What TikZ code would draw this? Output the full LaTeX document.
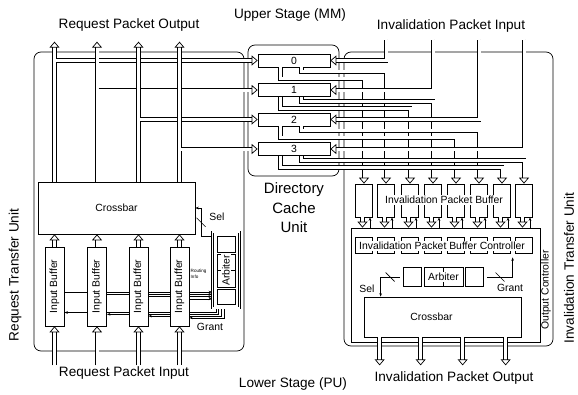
\documentclass[tikz,border=0pt]{standalone}
\usepackage{fontspec}
\setmainfont{Liberation Sans}
\usepackage{graphicx}
\usetikzlibrary{arrows.meta,positioning,backgrounds,calc}
\newcommand\bigfont{\fontsize{13.6}{16}\selectfont}
\newcommand\smlfont{\fontsize{10.4}{12}\selectfont}
\newcommand\dcufont{\fontsize{15}{19.5}\selectfont}
\newcommand\tnyfont{\fontsize{4.6}{5.4}\selectfont}
\tikzset{
  % rounded unit frame
  unitbox/.style={draw,rounded corners=7pt,line width=0.7pt,inner sep=0pt},
  % plain block
  blk/.style={draw,fill=white,line width=0.7pt,inner sep=0pt,font=\smlfont},
  % double bordered block
  dblk/.style={blk,double,double distance=1.4pt},
  % directory entry
  entry/.style={blk,minimum width=72pt,minimum height=13pt},
  % text laid over boxes
  cover/.style={fill=white,inner sep=1pt,font=\smlfont},
  % Arrows
  pipe/.style={draw,line width=0.7pt,double=white,double distance=3pt},
  parr/.style={pipe,-{Triangle[open,width=10pt,length=6pt]}},
  sarr/.style={-{Stealth[length=3.5pt,width=2.6pt]},line width=0.6pt},
  lbl/.style={font=\smlfont,inner sep=0pt},
  biglbl/.style={font=\bigfont,inner sep=0pt},
}
\begin{document}
\begin{tikzpicture}[x=1pt,y=-1pt]
  \useasboundingbox (0,0) rectangle (578,394);
  % frames
  \node[unitbox,minimum width=210pt,minimum height=299pt] (rtu) at (139,201.5) {};
  \node[unitbox,minimum width=91pt,minimum height=131pt] (dcu) at (293.5,110.5) {};
  \node[unitbox,minimum width=209pt,minimum height=294pt] (itu) at (448.5,199) {};
  \node[draw,line width=0.7pt,minimum width=189pt,minimum height=114pt] (oc) at (445.5,285) {};

  % directory entries
  \foreach \k in {0,...,3}
    \node[entry] (e\k) at (294,{60.5+29.5*\k}) {\k};

  % request side
  \node[blk,minimum width=157pt,minimum height=52pt] (xbL) at (116.5,208) {Crossbar};
  \foreach \i/\x in {1/54.5,2/97,3/138.5,4/179.5}
    \node[blk,minimum width=19pt,minimum height=79pt] (ib\i) at (\x,286.5)
      {\rotatebox{90}{Input Buffer}};
  \node[dblk,minimum width=27pt,minimum height=76pt] (arbL) at (226,270) {};
  \foreach \i/\y/\h in {1/244/16pt,2/262.25/16.5pt,3/278.75/16.5pt,4/297/15pt}
    \node[blk,minimum width=18pt,minimum height=\h] (aL\i) at (226,\y) {};
  \node[cover,rotate=90] (arbLt) at (226,270.5) {Arbiter};

  \begin{scope}[on background layer]
    \foreach \i in {1,...,4}{
      \path ($(ib\i.east)+(0,{5.5+2.3*(\i-1)})$) coordinate (r\i);
      \draw[sarr] (r\i) -- (r\i -| arbL.west);
      \path ($(ib\i.east)+(0,{26+1.8*(\i-1)})$) coordinate (g\i);
      \draw[sarr] ([xshift={4+2.6*(\i-1)}]arbL.south west) |- (g\i);
    }
  \end{scope}

  \draw[sarr] ([yshift=-5pt]arbL.north west) -- ++(-11,0)
    |- coordinate[pos=0.25] (sL) (xbL.east);
  \draw[line width=0.6pt] ($(sL)+(-4.5,-4.5)$) -- ($(sL)+(4.5,4.5)$);
  \node[lbl] at (217,217) {Sel};
  \node[lbl] at (210,327) {Grant};
  \node[font=\tnyfont,inner sep=0pt,anchor=west,align=left] at (190.5,274) {Routing\\Info};

  \foreach \i in {1,...,4}{
    \draw[parr] (ib\i.south) ++(0,39) -- (ib\i.south);
    \draw[parr] (ib\i.north) -- (ib\i.north |- xbL.south);
  }
  % request packets up to the directory
  \foreach \i/\k in {1/0,2/1,3/2,4/3}{
    \draw[parr] (ib\i |- xbL.north) -- ++(0,-140);
    \draw[parr] ($(ib\i |- e\k.west)+(1.5,0)$) -- (e\k.west);
  }

  % invalidation side
  \node[dblk,minimum width=182pt,minimum height=24pt] (ipbc) at (445,245) {};
  \foreach \i/\x in {1/364,2/386,3/410,4/433,5/456,6/479,7/502,8/524}{
    \node[blk,minimum width=17pt,minimum height=33pt] (b\i) at (\x,200.5) {};
    \node[blk,minimum width=17pt,minimum height=16pt] (c\i) at (\x,245) {};
  }
  \node[cover] at (444,200) {Invalidation Packet Buffer};
  \node[cover] at (442,246) {Invalidation Packet Buffer Controller};
  \node[dblk,minimum width=87pt,minimum height=26pt] (arbR) at (443.5,277) {};
  \foreach \i/\x/\w in {1/412/18pt,2/433.75/19.5pt,3/453.25/19.5pt,4/474/18pt}
    \node[blk,minimum width=\w,minimum height=19pt] (aR\i) at (\x,277) {};
  \node[cover] at (arbR.center) {Arbiter};
  \node[blk,minimum width=157pt,minimum height=40pt] (xbR) at (442.5,317) {};
  \node[lbl] at ([xshift=-11pt]xbR.center) {Crossbar};

  \draw[sarr] (arbR.west) -| coordinate[pos=0.25] (sR) ([xshift=17pt]xbR.north west);
  \draw[line width=0.6pt] ($(sR)+(-4.5,-4.5)$) -- ($(sR)+(4.5,4.5)$);
  \draw[sarr] (arbR.east) -| coordinate[pos=0.25] (gR) ([xshift=159pt]ipbc.south west);
  \draw[line width=0.6pt] ($(gR)+(-4.5,-4.5)$) -- ($(gR)+(4.5,4.5)$);
  \node[lbl] at (367,289) {Sel};
  \node[lbl] at (510,288) {Grant};

  \foreach \i in {1,...,8}{
    \draw[parr] ($(b\i.south)+(-1.5,0)$) -- ($(b\i.south |- oc.north)+(-1.5,0)$);
    \draw[sarr] ($(b\i.south |- oc.north)+(6,0)$) -- ($(b\i.south)+(6,0)$);
  }
  \foreach \dx in {16,57,99,142}
    \draw[parr] ([xshift=\dx pt]xbR.south west) -- ++(0,28);

  % directory to invalidation buffers
  \foreach \k/\jo/\ji in {0/1/2,1/3/4,2/5/6,3/7/8}{
    \draw[parr] (b\ji |- itu.north) ++(0,-12) |- (e\k.east);
    \draw[parr] ([xshift=44pt]e\k.south west) -- ++(0,4.5) -| (b\ji.north);
    \draw[parr] ([xshift=23pt]e\k.south west) -- ++(0,11.5) -| (b\jo.north);
  }

  % labels
  \node[biglbl] at (290,15) {Upper Stage (MM)};
  \node[biglbl] at (129,25) {Request Packet Output};
  \node[biglbl] at (451,26) {Invalidation Packet Input};
  \node[font=\dcufont,inner sep=0pt,align=center] at (294,208) {Directory\\Cache\\Unit};
  \node[biglbl,rotate=90] at (15,275) {Request Transfer Unit};
  \node[biglbl,rotate=90] at (569,268) {Invalidation Transfer Unit};
  \node[lbl,rotate=90] at (546,290) {Output Controller};
  \node[biglbl] at (124,373) {Request Packet Input};
  \node[biglbl] at (293,384) {Lower Stage (PU)};
  \node[biglbl] at (454,378) {Invalidation Packet Output};
\end{tikzpicture}
\end{document}
